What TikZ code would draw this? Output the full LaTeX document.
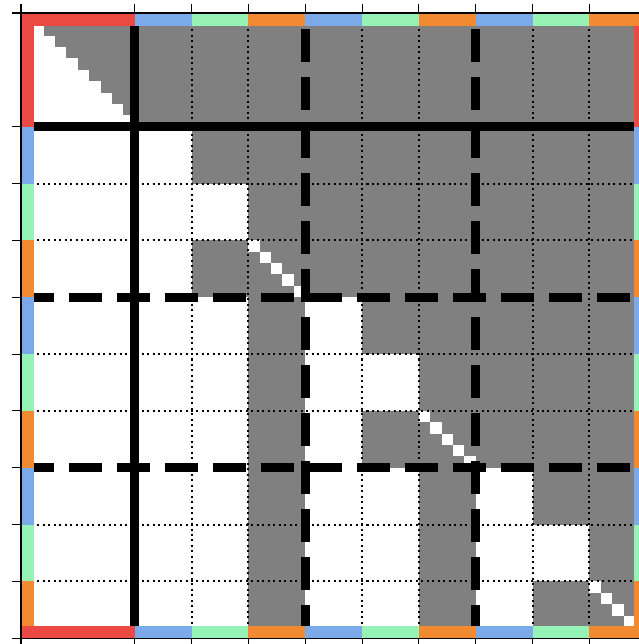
\documentclass[tikz,border=0pt]{standalone}
\usepackage{tikz}
\usetikzlibrary{calc}

\definecolor{cellgray}{HTML}{808080}
\definecolor{segred}{HTML}{EA4A42}
\definecolor{segblue}{HTML}{7BAAEB}
\definecolor{seggreen}{HTML}{97F2B5}
\definecolor{segorange}{HTML}{F18A31}

\begin{document}
\begin{tikzpicture}[x=8.5pt, y=-8.5pt,
		gridline/.style={black, line width=1.5pt, dash pattern=on 1.5pt off 2.6pt},
		sepline/.style={black, line width=6.7pt},
		sepdash/.style={dash pattern=on 24.7pt off 11.2pt},
		spine/.style={black, line width=0.8pt}]
			\newcommand{\GrayBlock}[2]{
				\fill[cellgray] ({5+5*#2},{5+5*#1}) rectangle ({10+5*#2},{10+5*#1});
			}

			\useasboundingbox (-1.847,-1.143) rectangle (54.35,55.50);

			\def\N{55}
			\def\bw{1.1}
			\def\tick{0.79}

			% first block: strip and upper triangle
			\fill[cellgray] (10,0) rectangle (\N,10);
			\foreach \r in {0,...,8}
				\fill[cellgray] ({\r+1},\r) rectangle (10,{\r+1});

			% gray blocks, row by row
			\foreach \r/\cs in {1/{2,3,4,5,6,7,8,9}, 2/{3,4,5,6,7,8,9}, 3/{2,3,4,5,6,7,8,9},
					4/{3,5,6,7,8,9}, 5/{3,6,7,8,9}, 6/{3,5,6,7,8,9},
					7/{3,6,8,9}, 8/{3,6,9}, 9/{3,6,8,9}}
				\foreach \c in \cs
					\GrayBlock{\r}{\c};

			% white diagonals
			\foreach \k in {3,6,9}
				\foreach \p in {0,...,4}
					\fill[white] ({5+5*\k+\p},{5+5*\k+\p}) rectangle +(1,1);

			% dotted grid
			\foreach \v in {15,20,30,35,45,50} {
				\draw[gridline] (\v,0) -- (\v,\N);
				\draw[gridline] (0,\v) -- (\N,\v);
			}

			% separators
			\draw[sepline] (10,0) -- (10,\N);
			\draw[sepline] (0,10) -- (\N,10);
			\foreach \v in {25,40} {
				\draw[sepline, sepdash] (\v,\N) -- (\v,0);
				\draw[sepline, sepdash] (0,\v) -- (\N,\v);
			}

			% coloured frame
			\foreach \a/\b/\col in {0/10/segred, 10/15/segblue, 15/20/seggreen, 20/25/segorange,
					25/30/segblue, 30/35/seggreen, 35/40/segorange,
					40/45/segblue, 45/50/seggreen, 50/55/segorange} {
				\fill[\col] (0,\a) rectangle (\bw,\b);
				\fill[\col] ({\N-\bw},\a) rectangle (\N,\b);
			}
			\foreach \a/\b/\col in {0/10/segred, 10/15/segblue, 15/20/seggreen, 20/25/segorange,
					25/30/segblue, 30/35/seggreen, 35/40/segorange,
					40/45/segblue, 45/50/seggreen, 50/55/segorange} {
				\fill[\col] (\a,0) rectangle (\b,\bw);
				\fill[\col] (\a,{\N-\bw}) rectangle (\b,\N);
			}

			% axes and ticks
			\draw[spine] (0,0) rectangle (\N,\N);
			\foreach \t in {0,10,15,...,55} {
				\draw[spine] (\t,0) -- ++(0,-\tick);
				\draw[spine] (\t,\N) -- ++(0,\tick);
				\draw[spine] (0,\t) -- ++(-\tick,0);
				\draw[spine] (\N,\t) -- ++(\tick,0);
			}
		\end{tikzpicture}
\end{document}
